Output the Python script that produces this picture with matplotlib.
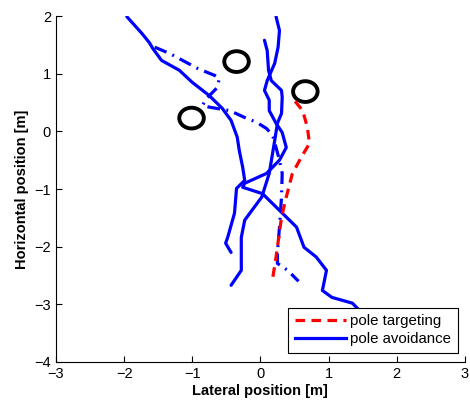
import numpy as np
import matplotlib.pyplot as plt
from matplotlib.patches import Circle

# pole positions [m]
pole_x = [-0.35, 0.66, -1.01]
pole_y = [1.21, 0.69, 0.23]
pole_r = 0.18

# pole targeting (red dashed)
tgt_x = [0.51, 0.62, 0.69, 0.72, 0.60, 0.47, 0.38, 0.31, 0.23, 0.18]
tgt_y = [0.52, 0.36, 0.07, -0.21, -0.45, -0.73, -1.14, -1.49, -2.18, -2.55]

# pole avoidance runs (solid)
av1_x = [-1.96, -1.74, -1.63, -1.58, -1.45, -1.19, -1.00, -0.75, -0.56, -0.43,
         -0.34, -0.31, -0.26, -0.23, -0.35, -0.38, -0.48, -0.51, -0.43]
av1_y = [1.99, 1.70, 1.54, 1.44, 1.23, 1.06, 0.85, 0.62, 0.40, 0.19,
         -0.10, -0.33, -0.62, -0.85, -0.99, -1.42, -1.84, -1.94, -2.10]
av2_x = [0.06, 0.10, 0.12, 0.16, 0.31, 0.32, 0.31, 0.25, 0.21, 0.13,
         0.02, -0.23, -0.28, -0.28, -0.43]
av2_y = [1.58, 1.40, 1.06, 0.88, 0.71, 0.59, 0.31, 0.14, -0.16, -0.73,
         -1.14, -1.54, -1.84, -2.41, -2.67]
av3_x = [0.23, 0.28, 0.26, 0.21, 0.10, 0.06, 0.13, 0.13, 0.23, 0.32, 0.38,
         0.28, 0.09, -0.23, -0.26, 0.03, 0.28, 0.53, 0.64, 0.82, 0.97,
         0.91, 1.05, 1.35, 1.45, 1.57]
av3_y = [1.99, 1.75, 1.46, 1.18, 0.88, 0.71, 0.54, 0.36, 0.14, -0.02, -0.28,
         -0.50, -0.73, -0.90, -0.97, -1.08, -1.37, -1.66, -2.01, -2.18, -2.41,
         -2.76, -2.88, -2.98, -3.10, -3.24]

# pole avoidance run (dash-dot)
dd_x = [-1.55, -1.33, -0.92, -0.67, -0.60, -0.64, -0.79, -0.85, -0.75, -0.45,
        -0.23, -0.06, 0.09, 0.18, 0.23, 0.28, 0.32, 0.31, 0.28, 0.25, 0.25,
        0.40, 0.56]
dd_y = [1.46, 1.35, 1.09, 0.97, 0.92, 0.75, 0.57, 0.45, 0.42, 0.36,
        0.24, 0.16, 0.05, -0.07, -0.28, -0.50, -0.73, -1.14, -1.66, -2.11, -2.29,
        -2.41, -2.60]

plt.rcParams['font.family'] = ['Liberation Sans', 'DejaVu Sans']
plt.rcParams['font.size'] = 10.5

fig = plt.figure(figsize=(4.7, 4.07), dpi=100)
ax = fig.add_axes([0.119, 0.1106, 0.870, 0.850])

lw = 2.3
style = dict(solid_joinstyle='round', solid_capstyle='round')
ax.plot(av1_x, av1_y, color='#0000ff', lw=lw, **style)
ax.plot(av2_x, av2_y, color='#0000ff', lw=lw, **style)
ax.plot(av3_x, av3_y, color='#0000ff', lw=lw, **style)
ax.plot(dd_x, dd_y, color='#0000ff', lw=lw, dashes=(4, 2, 0.6, 2))
ax.plot(tgt_x, tgt_y, color='#ff0000', lw=lw, dashes=(3, 2))

for px, py in zip(pole_x, pole_y):
    ax.add_patch(Circle((px, py), pole_r, fill=False, edgecolor='black', lw=2.8))

ax.set_xlim(-3, 3)
ax.set_ylim(-4, 2)
ax.set_xticks([-3, -2, -1, 0, 1, 2, 3])
ax.set_yticks([-4, -3, -2, -1, 0, 1, 2])
ax.set_xticklabels(['\u22123', '\u22122', '\u22121', '0', '1', '2', '3'])
ax.set_yticklabels(['\u22124', '\u22123', '\u22122', '\u22121', '0', '1', '2'])
ax.spines['top'].set_visible(False)
ax.spines['right'].set_visible(False)
ax.tick_params(direction='in', length=4, width=0.8)
ax.set_xlabel('Lateral position [m]', fontweight='bold', labelpad=2)
ax.set_ylabel('Horizontal position [m]', fontweight='bold', labelpad=4)

h1, = ax.plot([], [], color='#ff0000', lw=lw, dashes=(3, 2))
h2, = ax.plot([], [], color='#0000ff', lw=lw)
leg = ax.legend([h1, h2], ['pole targeting', 'pole avoidance'],
                loc='lower right', bbox_to_anchor=(0.983, 0.026),
                borderaxespad=0, fancybox=False, framealpha=1,
                edgecolor='black', handlelength=3.4, handletextpad=0.3,
                borderpad=0.45, labelspacing=0.25, fontsize=10.8)
leg.get_frame().set_linewidth(0.8)

fig.savefig('out.png', dpi=100)
